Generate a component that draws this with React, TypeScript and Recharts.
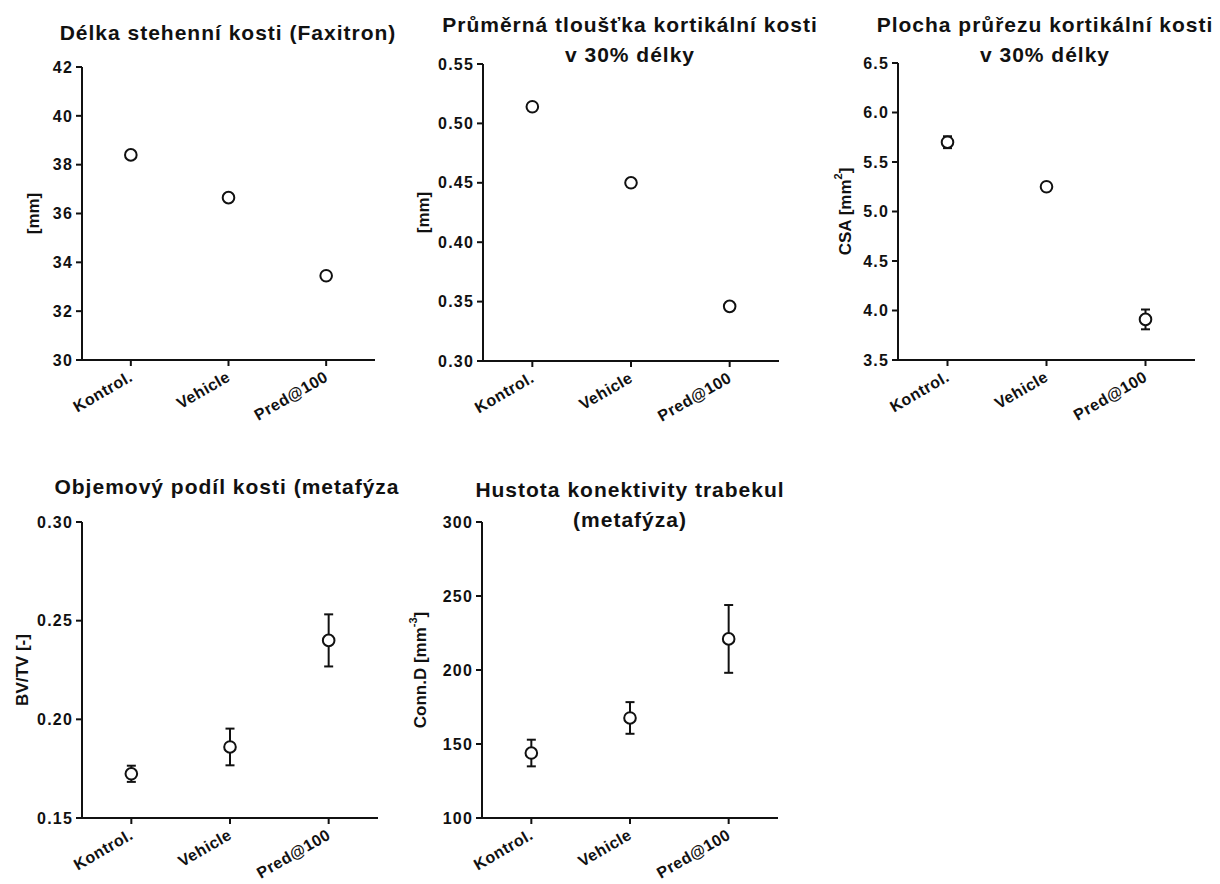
import React from "react"
import { ComposedChart, Line, XAxis, YAxis, ErrorBar } from "recharts"

const groups = ["Kontrol.", "Vehicle", "Pred@100"]

const femurLengthMean = [38.4, 36.65, 33.45]
const femurLengthErr = [0.12, 0.12, 0.12]
const femurLengthTicks = [30, 32, 34, 36, 38, 40, 42]

const cortThicknessMean = [0.514, 0.45, 0.346]
const cortThicknessErr = [0.003, 0.003, 0.003]
const cortThicknessTicks = [0.3, 0.35, 0.4, 0.45, 0.5, 0.55]

const cortAreaMean = [5.7, 5.25, 3.91]
const cortAreaErr = [0.06, 0.04, 0.1]
const cortAreaTicks = [3.5, 4.0, 4.5, 5.0, 5.5, 6.0, 6.5]

const bvtvMean = [0.1724, 0.186, 0.24]
const bvtvErr = [0.0041, 0.0093, 0.0132]
const bvtvTicks = [0.15, 0.2, 0.25, 0.3]

const connDMean = [143.9, 167.6, 221]
const connDErr = [9, 10.7, 22.9]
const connDTicks = [100, 150, 200, 250, 300]

const FONT = '"Liberation Sans", Arial, Helvetica, sans-serif'
const INK = "#111"
const X_AXIS_H = 60

type Box = { left: number; top: number; width: number; height: number }
type Plot = { left: number; right: number; top: number; bottom: number }

type PanelProps = {
  title: string[]
  titleX: number
  titleY: number
  yLabel: React.ReactNode
  labelX: number
  means: number[]
  errs: number[]
  ticks: number[]
  decimals: number
  box: Box
  plot: Plot
}

function XTick(props: any) {
  const { x, y, payload } = props
  return (
    <g transform={`translate(${x},${y})`}>
      <text
        transform="translate(3,12) rotate(-30)"
        textAnchor="end"
        fontFamily={FONT}
        fontWeight="bold"
        fontSize={16}
        letterSpacing={0.5}
        fill={INK}
      >
        {payload.value}
      </text>
    </g>
  )
}

function Panel({
  title,
  titleX,
  titleY,
  yLabel,
  labelX,
  means,
  errs,
  ticks,
  decimals,
  box,
  plot,
}: PanelProps) {
  const data = groups.map((g, i) => ({ group: g, mean: means[i], err: errs[i] }))
  const yAxisW = plot.left - box.left
  const pad = (plot.right - plot.left) / 6
  const margin = {
    top: plot.top - box.top,
    left: 0,
    right: box.left + box.width - plot.right,
    bottom: box.top + box.height - plot.bottom - X_AXIS_H,
  }
  const lx = labelX - box.left
  const ly = (plot.top + plot.bottom) / 2 - box.top

  return (
    <>
      {title.map((line, i) => (
        <div
          key={i}
          style={{
            position: "absolute",
            left: titleX - 260,
            width: 520,
            top: titleY + i * 30 - 15,
            height: 30,
            lineHeight: "30px",
            textAlign: "center",
            fontFamily: FONT,
            fontWeight: "bold",
            fontSize: 21,
            letterSpacing: 1,
            color: INK,
            whiteSpace: "nowrap",
            zIndex: 2,
          }}
        >
          {line}
        </div>
      ))}
      <div style={{ position: "absolute", left: box.left, top: box.top }}>
        <ComposedChart width={box.width} height={box.height} data={data} margin={margin}>
          <XAxis
            dataKey="group"
            type="category"
            height={X_AXIS_H}
            interval={0}
            padding={{ left: pad, right: pad }}
            tick={<XTick />}
            tickSize={6}
            axisLine={{ stroke: INK, strokeWidth: 2 }}
            tickLine={{ stroke: INK, strokeWidth: 2 }}
          />
          <YAxis
            type="number"
            width={yAxisW}
            domain={[ticks[0], ticks[ticks.length - 1]]}
            ticks={ticks}
            interval={0}
            tickFormatter={(v: number) => v.toFixed(decimals)}
            tickSize={6}
            tickMargin={3}
            tick={{
              fill: INK,
              fontFamily: FONT,
              fontWeight: "bold",
              fontSize: 16,
              letterSpacing: 1.2,
            }}
            axisLine={{ stroke: INK, strokeWidth: 2 }}
            tickLine={{ stroke: INK, strokeWidth: 2 }}
            label={() => (
              <text
                x={lx}
                y={ly}
                transform={`rotate(-90, ${lx}, ${ly})`}
                textAnchor="middle"
                dominantBaseline="central"
                fontFamily={FONT}
                fontWeight="bold"
                fontSize={17}
                fill={INK}
              >
                {yLabel}
              </text>
            )}
          />
          <Line
            dataKey="mean"
            stroke="none"
            isAnimationActive={false}
            activeDot={false}
            dot={{ r: 5.8, stroke: INK, strokeWidth: 2, fill: "#fff" }}
          >
            <ErrorBar dataKey="err" direction="y" width={4.5} stroke={INK} strokeWidth={2} />
          </Line>
        </ComposedChart>
      </div>
    </>
  )
}

export default function App() {
  return (
    <div
      style={{
        position: "absolute",
        left: 0,
        top: 0,
        width: 1220,
        height: 884,
        background: "#fff",
        overflow: "hidden",
      }}
    >
      <Panel
        title={["Délka stehenní kosti (Faxitron)"]}
        titleX={228}
        titleY={33}
        yLabel="[mm]"
        labelX={33}
        means={femurLengthMean}
        errs={femurLengthErr}
        ticks={femurLengthTicks}
        decimals={0}
        box={{ left: 0, top: 0, width: 400, height: 440 }}
        plot={{ left: 82, right: 375, top: 67, bottom: 360 }}
      />
      <Panel
        title={["Průměrná tloušťka kortikální kosti", "v 30% délky"]}
        titleX={630}
        titleY={25}
        yLabel="[mm]"
        labelX={423}
        means={cortThicknessMean}
        errs={cortThicknessErr}
        ticks={cortThicknessTicks}
        decimals={2}
        box={{ left: 400, top: 0, width: 400, height: 440 }}
        plot={{ left: 483, right: 779, top: 64, bottom: 361 }}
      />
      <Panel
        title={["Plocha průřezu kortikální kosti", "v 30% délky"]}
        titleX={1045}
        titleY={25}
        yLabel={
          <>
            <tspan>CSA [mm</tspan>
            <tspan fontSize={11} dy={-7}>2</tspan>
            <tspan dy={7}>]</tspan>
          </>
        }
        labelX={845}
        means={cortAreaMean}
        errs={cortAreaErr}
        ticks={cortAreaTicks}
        decimals={1}
        box={{ left: 800, top: 0, width: 420, height: 440 }}
        plot={{ left: 898, right: 1195, top: 63, bottom: 360 }}
      />
      <Panel
        title={["Objemový podíl kosti (metafýza"]}
        titleX={227}
        titleY={487}
        yLabel="BV/TV [-]"
        labelX={22}
        means={bvtvMean}
        errs={bvtvErr}
        ticks={bvtvTicks}
        decimals={2}
        box={{ left: 0, top: 440, width: 400, height: 444 }}
        plot={{ left: 82, right: 378, top: 522, bottom: 818 }}
      />
      <Panel
        title={["Hustota konektivity trabekul", "(metafýza)"]}
        titleX={630}
        titleY={490}
        yLabel={
          <>
            <tspan>Conn.D [mm</tspan>
            <tspan fontSize={11} dy={-7}>-3</tspan>
            <tspan dy={7}>]</tspan>
          </>
        }
        labelX={420}
        means={connDMean}
        errs={connDErr}
        ticks={connDTicks}
        decimals={0}
        box={{ left: 400, top: 440, width: 400, height: 444 }}
        plot={{ left: 482, right: 778, top: 522, bottom: 818 }}
      />
    </div>
  )
}
